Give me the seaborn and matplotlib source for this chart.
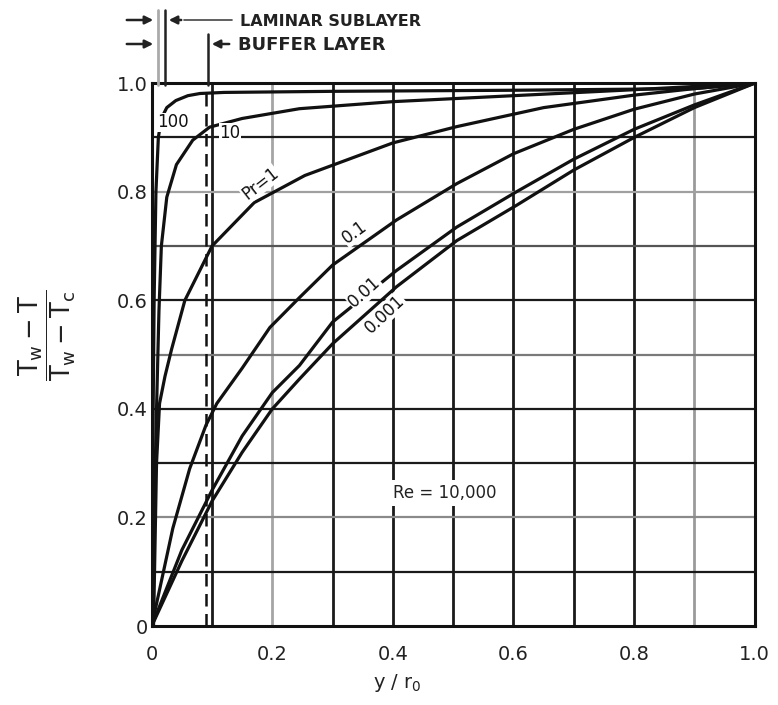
import matplotlib
matplotlib.use("Agg")
import matplotlib.pyplot as plt
import seaborn as sns
import pandas as pd

# ---- data ----
pr100_x = [0, 0.002, 0.004, 0.007, 0.011, 0.016, 0.025, 0.04, 0.06, 0.08, 0.12, 0.3, 0.6, 0.9, 1.0]
pr100_y = [0, 0.35, 0.60, 0.80, 0.90, 0.935, 0.955, 0.968, 0.977, 0.981, 0.983, 0.985, 0.987, 0.99, 1.0]

pr10_x = [0, 0.004, 0.008, 0.012, 0.016, 0.025, 0.041, 0.068, 0.096, 0.15, 0.245, 0.4, 0.6, 0.8, 1.0]
pr10_y = [0, 0.20, 0.40, 0.58, 0.70, 0.79, 0.85, 0.895, 0.919, 0.935, 0.953, 0.966, 0.977, 0.988, 1.0]

pr1_x = [0.003, 0.008, 0.013, 0.022, 0.033, 0.055, 0.1, 0.17, 0.254, 0.4, 0.506, 0.65, 0.8, 0.9, 1.0]
pr1_y = [0.0, 0.30, 0.41, 0.46, 0.51, 0.60, 0.70, 0.78, 0.83, 0.89, 0.92, 0.955, 0.978, 0.99, 1.0]

pr01_x = [0, 0.035, 0.063, 0.09, 0.108, 0.15, 0.196, 0.245, 0.3, 0.406, 0.506, 0.6, 0.7, 0.8, 0.9, 1.0]
pr01_y = [0, 0.18, 0.29, 0.37, 0.41, 0.475, 0.55, 0.605, 0.665, 0.748, 0.815, 0.87, 0.915, 0.952, 0.98, 1.0]

pr001_x = [0, 0.05, 0.1, 0.15, 0.2, 0.245, 0.3, 0.406, 0.506, 0.605, 0.7, 0.8, 0.9, 1.0]
pr001_y = [0, 0.14, 0.25, 0.35, 0.43, 0.48, 0.56, 0.655, 0.735, 0.80, 0.86, 0.915, 0.96, 1.0]

pr0001_x = [0, 0.05, 0.1, 0.15, 0.2, 0.245, 0.3, 0.406, 0.506, 0.605, 0.7, 0.8, 0.9, 1.0]
pr0001_y = [0, 0.12, 0.23, 0.32, 0.40, 0.455, 0.52, 0.625, 0.71, 0.775, 0.84, 0.90, 0.955, 1.0]

x_ticks = [0, 0.2, 0.4, 0.6, 0.8, 1.0]
x_ticklabels = ["0", "0.2", "0.4", "0.6", "0.8", "1.0"]
y_ticks = [0, 0.2, 0.4, 0.6, 0.8, 1.0]
y_ticklabels = ["0", "0.2", "0.4", "0.6", "0.8", "1.0"]

curve_labels = ["100", "10", "Pr=1", "0.1", "0.01", "0.001"]
label_x = [0.035, 0.13, 0.18, 0.337, 0.353, 0.386]
label_y = [0.928, 0.908, 0.815, 0.725, 0.615, 0.575]
label_rot = [0, 0, 38, 36, 42, 43]

buffer_x = 0.09
re_text = "Re = 10,000"

# ---- plotting ----
sns.set_style("white")
plt.rcParams['font.family'] = ['DejaVu Sans']

fig = plt.figure(figsize=(7.78, 7.05), dpi=100)
ax = fig.add_axes([0.195, 0.112, 0.775, 0.770])

series = [(pr100_x, pr100_y), (pr10_x, pr10_y), (pr1_x, pr1_y),
          (pr01_x, pr01_y), (pr001_x, pr001_y), (pr0001_x, pr0001_y)]
for name, (xs, ys) in zip(curve_labels, series):
    df = pd.DataFrame({"x": xs, "y": ys})
    sns.lineplot(data=df, x="x", y="y", ax=ax, color="#111111", lw=2.3,
                 sort=False, estimator=None, zorder=4)

# grid lines
grid_vals = [0.1, 0.2, 0.3, 0.4, 0.5, 0.6, 0.7, 0.8, 0.9]
v_colors = ["#1a1a1a", "#a5a5a5", "#1a1a1a", "#1a1a1a", "#1a1a1a", "#1a1a1a", "#1a1a1a", "#1a1a1a", "#9a9a9a"]
h_colors = ["#1a1a1a", "#8a8a8a", "#1a1a1a", "#1a1a1a", "#7a7a7a", "#1a1a1a", "#555555", "#a0a0a0", "#1a1a1a"]
for v, c in zip(grid_vals, v_colors):
    ax.axvline(v, color=c, lw=2.0, zorder=1)
for v, c in zip(grid_vals, h_colors):
    ax.axhline(v, color=c, lw=1.6, zorder=1)

ax.axvline(buffer_x, ymax=0.985, color="#111111", lw=1.8, ls=(0, (5, 3)), zorder=3)

ax.set_xlim(0, 1.0)
ax.set_ylim(0, 1.0)
ax.set_xticks(x_ticks)
ax.set_xticklabels(x_ticklabels)
ax.set_yticks(y_ticks)
ax.set_yticklabels(y_ticklabels)
ax.tick_params(length=0, labelsize=14, colors="#222222")
ax.tick_params(axis="x", pad=14)
ax.tick_params(axis="y", pad=3)
for s in ax.spines.values():
    s.set_color("#111111")
    s.set_linewidth(2.2)

ax.set_xlabel(r"y / r$_0$", fontsize=14, color="#222222")
ax.xaxis.set_label_coords(0.408, -0.085)
ax.set_ylabel(r"$\dfrac{\mathrm{T_w - T}}{\mathrm{T_w - T_c}}$", fontsize=18.5, color="#222222")
ax.yaxis.set_label_coords(-0.122, 0.535)

for t, x, y, r in zip(curve_labels, label_x, label_y, label_rot):
    ax.text(x, y, t, rotation=r, fontsize=12, ha="center", va="center", color="#111111",
            rotation_mode="anchor", zorder=5,
            bbox=dict(facecolor="white", edgecolor="none", pad=0.5))

ax.text(0.40, 0.245, re_text, fontsize=12, ha="left", va="center", color="#222222", zorder=5,
        bbox=dict(facecolor="white", edgecolor="none", pad=3))

# top annotations (figure pixel coordinates converted to fraction)
W, H = 778, 705
def fx(px):
    return px / W
def fy(py):
    return 1 - py / H

fig.text(fx(240), fy(22), "LAMINAR SUBLAYER", fontsize=11.5, fontweight="bold", va="center", ha="left", color="#222222")
fig.text(fx(238), fy(45), "BUFFER LAYER", fontsize=13, fontweight="bold", va="center", ha="left", color="#222222")

# marker vertical lines
fig.add_artist(plt.Line2D([fx(158), fx(158)], [fy(10), fy(85)], color="#aaaaaa", lw=2))
fig.add_artist(plt.Line2D([fx(165), fx(165)], [fy(10), fy(85)], color="#222222", lw=1.8))
fig.add_artist(plt.Line2D([fx(208), fx(208)], [fy(34), fy(85)], color="#222222", lw=1.8))
# arrows
arrow = dict(arrowstyle="-|>", color="#222222", lw=1.8, mutation_scale=12)
fig.add_artist(matplotlib.patches.FancyArrowPatch((fx(124), fy(20)), (fx(156), fy(20)), transform=fig.transFigure, **arrow))
fig.add_artist(matplotlib.patches.FancyArrowPatch((fx(184), fy(20)), (fx(166), fy(20)), transform=fig.transFigure, **arrow))
fig.add_artist(plt.Line2D([fx(184), fx(232)], [fy(20), fy(20)], color="#444444", lw=1.2))
fig.add_artist(matplotlib.patches.FancyArrowPatch((fx(124), fy(44)), (fx(156), fy(44)), transform=fig.transFigure, **arrow))
fig.add_artist(matplotlib.patches.FancyArrowPatch((fx(232), fy(44)), (fx(209), fy(44)), transform=fig.transFigure, **arrow))

fig.savefig("out.png", dpi=100)
